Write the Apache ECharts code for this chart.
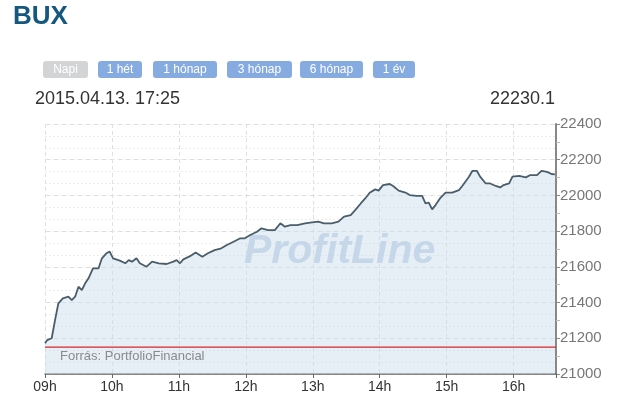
<!DOCTYPE html>
<html>
<head>
<meta charset="utf-8">
<script src="https://cdn.jsdelivr.net/npm/echarts@6/dist/echarts.min.js"></script>
<style>
  html, body { margin: 0; padding: 0; background: #fff; }
  #main { width: 619px; height: 410px; }
</style>
</head>
<body>
<div id="main"></div>
<script>
// idopontok (ora:perc) es BUX ertekek
var times = ['09:00','09:02','09:06','09:09','09:12','09:16','09:21','09:24','09:27','09:30',
    '09:33','09:36','09:39','09:43','09:48','09:51','09:55','09:58','10:01','10:07',
    '10:12','10:15','10:18','10:22','10:25','10:31','10:36','10:42','10:49','10:55',
    '10:58','11:01','11:04','11:10','11:15','11:21','11:26','11:32','11:38','11:43',
    '11:49','11:55','11:59','12:04','12:10','12:14','12:20','12:26','12:31','12:35',
    '12:40','12:46','12:53','13:01','13:05','13:10','13:17','13:23','13:28','13:34',
    '13:38','13:43','13:47','13:51','13:56','13:59','14:03','14:09','14:12','14:17',
    '14:23','14:27','14:33','14:38','14:41','14:44','14:47','14:50','14:54','14:59',
    '15:05','15:11','15:14','15:15','15:20','15:23','15:27','15:30','15:35','15:39',
    '15:44','15:48','15:51','15:56','15:59','16:05','16:11','16:15','16:21','16:25',
    '16:30','16:34','16:37'];
var values = [21172,21190,21200,21302,21396,21424,21433,21414,21433,21489,
    21470,21508,21536,21592,21592,21648,21676,21685,21648,21635,
    21620,21638,21629,21648,21620,21601,21629,21620,21616,21629,
    21638,21620,21642,21660,21680,21657,21676,21694,21704,21722,
    21741,21760,21760,21778,21797,21816,21806,21806,21844,21825,
    21834,21834,21844,21850,21853,21844,21844,21853,21881,21890,
    21918,21955,21983,22015,22034,22027,22058,22064,22053,22027,
    22016,22002,21997,21997,21955,21960,21922,21946,21983,22016,
    22016,22030,22053,22045,22105,22137,22138,22105,22067,22067,
    22053,22045,22058,22067,22105,22109,22101,22114,22114,22138,
    22132,22120,22118];
var prevClose = 21151;
var hourLabels = ['09h','10h','11h','12h','13h','14h','15h','16h'];
var buttons = ['Napi','1 hét','1 hónap','3 hónap','6 hónap','1 év'];
var lastTime = '2015.04.13. 17:25';
var lastValue = '22230.1';

// perc 09:00-tol
function toMin(t) {
    var p = t.split(':');
    return (parseInt(p[0], 10) - 9) * 60 + parseInt(p[1], 10);
}
var seriesData = times.map(function (t, i) {
    return [toMin(t), values[i]];
});
var prevData = [[0, prevClose], [458, prevClose]];

// gombok
var btnX = [43, 98, 153, 227, 300, 373];
var btnW = [45, 44, 64, 65, 63, 42];
var btnGraphics = [];
buttons.forEach(function (b, i) {
    btnGraphics.push({
        type: 'rect',
        shape: { x: btnX[i], y: 61, width: btnW[i], height: 17, r: 3 },
        style: { fill: i === 0 ? '#d3d4d6' : '#86abe0' }
    });
    btnGraphics.push({
        type: 'text',
        x: btnX[i] + btnW[i] / 2,
        y: 69.5,
        style: {
            text: b, fill: '#fff', font: '12px "Liberation Sans", Arial, sans-serif',
            align: 'center', verticalAlign: 'middle'
        }
    });
});

var chart = echarts.init(document.getElementById('main'), null, { renderer: 'canvas' });
var option = {
    animation: false,
    backgroundColor: '#fff',
    grid: { left: 45, right: 63, top: 124, bottom: 36 },
    xAxis: {
        type: 'value',
        min: 0,
        max: 458,
        interval: 60,
        axisLine: { show: true, onZero: false, lineStyle: { color: '#666', width: 1.5 } },
        axisTick: { show: true, length: 4, lineStyle: { color: '#666' } },
        axisLabel: {
            color: '#333', fontSize: 14, fontFamily: 'Liberation Sans', margin: 6,
            formatter: function (v) { return hourLabels[v / 60] || ''; }
        },
        splitLine: { show: true, lineStyle: { color: '#e0e0e0', type: [4, 3] } }
    },
    yAxis: [{
        type: 'value',
        position: 'right',
        min: 21000,
        max: 22400,
        interval: 200,
        axisLine: { show: true, onZero: false, lineStyle: { color: '#888', width: 2 } },
        axisTick: { show: true, length: 4, lineStyle: { color: '#888' } },
        minorTick: { show: true, splitNumber: 2, length: 4, lineStyle: { color: '#bbb' } },
        axisLabel: {
            color: '#777', fontSize: 15, fontFamily: 'Liberation Sans', margin: 4,
            formatter: function (v) { return String(v); }
        },
        splitLine: { show: true, lineStyle: { color: '#d8d8d8', type: [5, 3] } }
    }, {
        type: 'value',
        position: 'right',
        min: 21000,
        max: 22400,
        interval: 200 / 3,
        axisLine: { show: false, onZero: false },
        axisTick: { show: false },
        axisLabel: { show: false },
        splitLine: { show: true, lineStyle: { color: '#ebebeb', type: [2, 2] } }
    }],
    graphic: [
        {
            type: 'text', left: 13, top: 4, z: 10,
            style: { text: 'BUX', fill: '#14577f', font: 'bold 26px "Liberation Sans", Arial, sans-serif' }
        },
        {
            type: 'text', left: 35, top: 90, z: 10,
            style: { text: lastTime, fill: '#333', font: '18px "Liberation Sans", Arial, sans-serif' }
        },
        {
            type: 'text', right: 64, top: 90, z: 10,
            style: { text: lastValue, fill: '#333', font: '18px "Liberation Sans", Arial, sans-serif' }
        },
        {
            type: 'text', left: 244, top: 231, z: 1,
            style: { text: 'ProfitLine', fill: 'rgba(175,200,220,0.8)', font: 'italic bold 41px "Liberation Sans", Arial, sans-serif' }
        },
        {
            type: 'text', left: 60, top: 350, z: 10,
            style: { text: 'Forrás: PortfolioFinancial', fill: '#8a8a8a', font: '13px "Liberation Sans", Arial, sans-serif' }
        }
    ].concat(btnGraphics),
    series: [{
        type: 'line',
        data: seriesData,
        showSymbol: false,
        z: 3,
        lineStyle: { color: '#4a5d6b', width: 1.8 },
        areaStyle: { color: 'rgba(205,221,236,0.7)', origin: 'start' }
    }, {
        type: 'line',
        data: prevData,
        showSymbol: false,
        silent: true,
        z: 4,
        lineStyle: { color: '#d9262b', width: 1.2 }
    }]
};
chart.setOption(option);
</script>
</body>
</html>
